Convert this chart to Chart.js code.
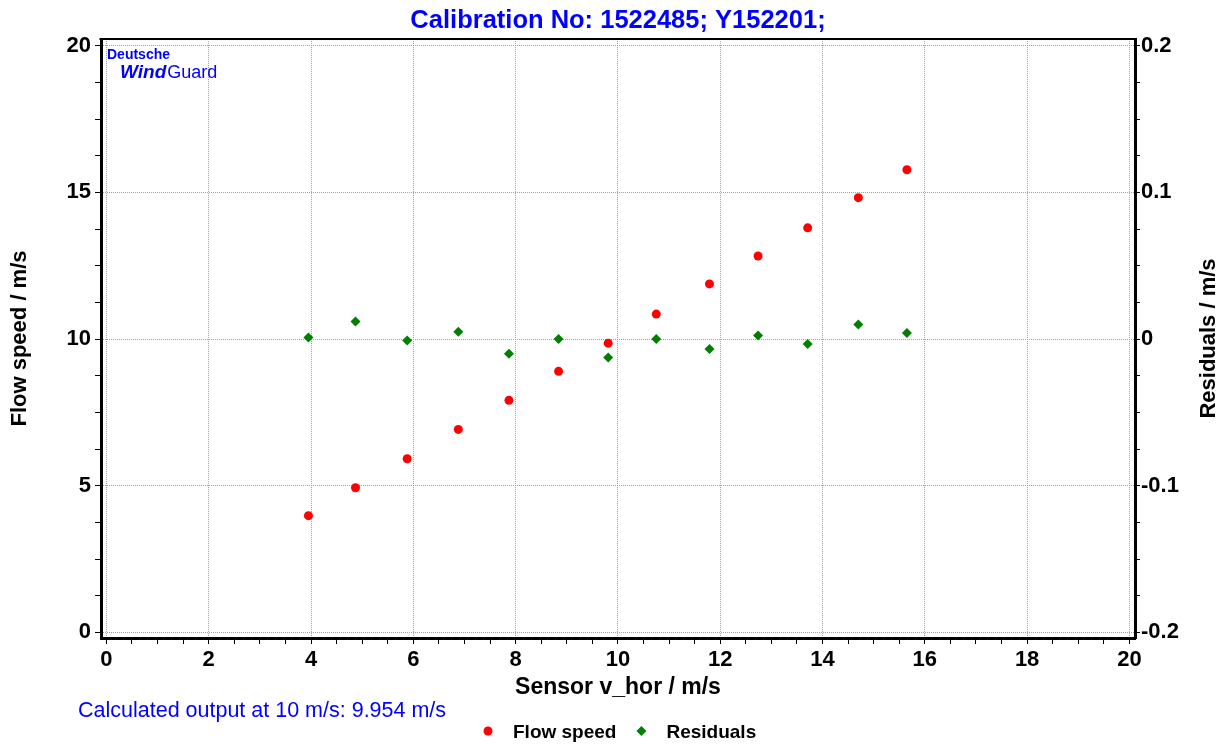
<!DOCTYPE html>
<html><head><meta charset="utf-8">
<script src="https://cdn.jsdelivr.net/npm/chart.js@4/dist/chart.umd.min.js"></script>
<style>html,body{margin:0;padding:0;background:#fff}#wrap{width:1225px;height:744px;position:relative}</style>
</head><body><div id="wrap"><canvas id="c" width="1225" height="744"></canvas></div>
<script>
const titleText = 'Calibration No: 1522485; Y152201;';
const noteText = 'Calculated output at 10 m/s: 9.954 m/s';
const seriesNames = ['Flow speed', 'Residuals'];
const axisTitles = ['Sensor v_hor / m/s', 'Flow speed / m/s', 'Residuals / m/s'];

const sensorVhor = [3.95, 4.87, 5.88, 6.88, 7.87, 8.84, 9.81, 10.75, 11.79, 12.74, 13.71, 14.70, 15.65];
const flowSpeed  = [3.98, 4.93, 5.92, 6.92, 7.91, 8.90, 9.86, 10.85, 11.88, 12.83, 13.79, 14.82, 15.77];
const residuals  = [0.001, 0.012, -0.001, 0.005, -0.010, 0.000, -0.0125, 0.000, -0.0068, 0.0025, -0.0034, 0.010, 0.0041];

const xTicks = [0, 2, 4, 6, 8, 10, 12, 14, 16, 18, 20];
const xTickLabels = ['0', '2', '4', '6', '8', '10', '12', '14', '16', '18', '20'];
const yTicks = [0, 5, 10, 15, 20];
const yTickLabels = ['0', '5', '10', '15', '20'];
const rTicks = [-0.2, -0.1, 0, 0.1, 0.2];
const rTickLabels = ['-0.2', '-0.1', '0', '0.1', '0.2'];

const FONT = "'Liberation Sans', Arial, Helvetica, sans-serif";

function tickBuilder(majors, labels, sub) {
  return function (axis) {
    const out = [];
    for (let i = 0; i < majors.length; i++) {
      out.push({ value: majors[i], major: true, lbl: labels[i] });
      if (i < majors.length - 1) {
        for (let j = 1; j < sub; j++) {
          out.push({ value: majors[i] + (majors[i + 1] - majors[i]) * j / sub, major: false, lbl: '' });
        }
      }
    }
    axis.ticks = out;
  };
}
const labelCb = (v, i, t) => (t[i] && t[i].major ? t[i].lbl : '');
const gridColor = (ctx) => (ctx.tick && ctx.tick.major ? '#a0a0a0' : 'rgba(0,0,0,0)');

const extras = {
  id: 'extras',
  afterDraw(chart) {
    const { ctx, chartArea: a } = chart;
    ctx.save();
    // top frame line
    ctx.strokeStyle = '#000';
    ctx.lineWidth = 2;
    ctx.beginPath();
    ctx.moveTo(a.left - 1.5, a.top);
    ctx.lineTo(a.right + 1.5, a.top);
    ctx.stroke();
    // right axis title (reads bottom to top)
    ctx.save();
    ctx.translate(1209, (a.top + a.bottom) / 2);
    ctx.rotate(-Math.PI / 2);
    ctx.fillStyle = '#000';
    ctx.font = 'bold 22px ' + FONT;
    ctx.textAlign = 'center';
    ctx.textBaseline = 'middle';
    ctx.fillText(axisTitles[2], 0, 0);
    ctx.restore();
    // logo
    ctx.fillStyle = '#0000FF';
    ctx.textBaseline = 'alphabetic';
    ctx.textAlign = 'left';
    ctx.font = 'bold 14px ' + FONT;
    ctx.fillText('Deutsche', 107, 59);
    ctx.font = 'italic bold 19px ' + FONT;
    ctx.fillText('Wind', 120, 78);
    const ww = ctx.measureText('Wind').width;
    ctx.font = '18px ' + FONT;
    ctx.fillText('Guard', 120 + ww + 1, 78);
    // note
    ctx.font = '21.5px ' + FONT;
    ctx.fillText(noteText, 78, 717);
    // legend
    ctx.font = 'bold 19px ' + FONT;
    let x = 488;
    const y = 731;
    chart.data.datasets.forEach((ds) => {
      ctx.fillStyle = ds.backgroundColor;
      ctx.beginPath();
      if (ds.pointStyle === 'rectRot') {
        const r = 5;
        ctx.moveTo(x, y - r); ctx.lineTo(x + r, y); ctx.lineTo(x, y + r); ctx.lineTo(x - r, y); ctx.closePath();
      } else {
        ctx.arc(x, y, 4.5, 0, Math.PI * 2);
      }
      ctx.fill();
      ctx.fillStyle = '#000';
      ctx.fillText(ds.label, x + 25, y + 7);
      x = x + 25 + ctx.measureText(ds.label).width + 25;
    });
    ctx.restore();
  }
};

new Chart(document.getElementById('c'), {
  type: 'scatter',
  data: {
    datasets: [
      {
        label: seriesNames[0],
        data: sensorVhor.map((v, i) => ({ x: v, y: flowSpeed[i] })),
        yAxisID: 'y',
        pointStyle: 'circle',
        pointRadius: 4.5,
        pointBorderWidth: 0,
        backgroundColor: '#FF0000',
        borderColor: '#FF0000'
      },
      {
        label: seriesNames[1],
        data: sensorVhor.map((v, i) => ({ x: v, y: residuals[i] })),
        yAxisID: 'y1',
        pointStyle: 'rectRot',
        pointRadius: 5,
        pointBorderWidth: 0,
        backgroundColor: '#008000',
        borderColor: '#008000'
      }
    ]
  },
  options: {
    responsive: false,
    animation: false,
    devicePixelRatio: 1,
    layout: { padding: 0 },
    plugins: {
      legend: { display: false },
      tooltip: { enabled: false },
      title: {
        display: true,
        text: titleText,
        color: '#0000FF',
        fullSize: false,
        font: { family: FONT, size: 25.5, weight: 'bold', lineHeight: 1.2 },
        padding: { top: 6, bottom: 2.4 }
      }
    },
    scales: {
      x: {
        type: 'linear',
        position: 'bottom',
        min: -0.1056,
        max: 20.109,
        afterBuildTicks: tickBuilder(xTicks, xTickLabels, 4),
        afterFit: (s) => { s.height = 106; },
        ticks: { autoSkip: false, maxRotation: 0, color: '#000', padding: 3, font: { family: FONT, size: 22, weight: 'bold' }, callback: labelCb },
        grid: { color: gridColor, lineWidth: 1, tickColor: '#000', tickLength: 6, tickWidth: 1 },
        border: { display: true, color: '#000', width: 3, dash: [1, 1] },
        title: { display: true, text: axisTitles[0], color: '#000', font: { family: FONT, size: 23, weight: 'bold', lineHeight: 1.2 }, padding: { top: 0, bottom: 43 } }
      },
      y: {
        type: 'linear',
        position: 'left',
        min: -0.191,
        max: 20.228,
        afterBuildTicks: tickBuilder(yTicks, yTickLabels, 4),
        afterFit: (s) => { s.width = 101; },
        ticks: { autoSkip: false, color: '#000', padding: 4, font: { family: FONT, size: 22, weight: 'bold' }, callback: labelCb },
        grid: { color: gridColor, lineWidth: 1, tickColor: '#000', tickLength: 6, tickWidth: 1 },
        border: { display: true, color: '#000', width: 3, dash: [1, 1] },
        title: { display: true, text: axisTitles[1], color: '#000', font: { family: FONT, size: 22, weight: 'bold', lineHeight: 1.2 }, padding: { top: 7, bottom: 0 } }
      },
      y1: {
        type: 'linear',
        position: 'right',
        min: -0.20382,
        max: 0.20457,
        afterBuildTicks: tickBuilder(rTicks, rTickLabels, 4),
        afterFit: (s) => { s.width = 90; },
        ticks: { autoSkip: false, color: '#000', padding: 1, font: { family: FONT, size: 22, weight: 'bold' }, callback: labelCb },
        grid: { drawOnChartArea: false, color: gridColor, lineWidth: 1, tickColor: '#000', tickLength: 5, tickWidth: 1 },
        border: { display: true, color: '#000', width: 3 },
        title: { display: false, text: axisTitles[2] }
      }
    }
  },
  plugins: [extras]
});
</script>
</body></html>
